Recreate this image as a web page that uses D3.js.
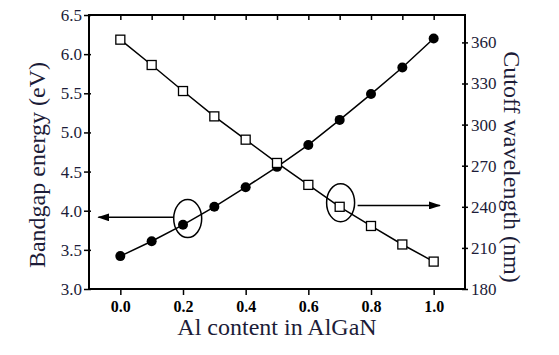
<!DOCTYPE html>
<html>
<head>
<meta charset="utf-8">
<script src="https://cdn.jsdelivr.net/npm/d3@7"></script>
<style>
body { margin: 0; background: #fff; }
</style>
</head>
<body>
<script>
var alContent = [0.0, 0.1, 0.2, 0.3, 0.4, 0.5, 0.6, 0.7, 0.8, 0.9, 1.0];
var bandgap = [3.42, 3.61, 3.82, 4.05, 4.30, 4.56, 4.84, 5.16, 5.49, 5.83, 6.20];
var wavelength = [362, 343.5, 324.5, 306, 289, 272, 256, 240, 226, 212.5, 200];
var xTicks = [0.0, 0.2, 0.4, 0.6, 0.8, 1.0];
var leftTicks = [3.0, 3.5, 4.0, 4.5, 5.0, 5.5, 6.0, 6.5];
var rightTicks = [180, 210, 240, 270, 300, 330, 360];

var serif = "'Liberation Serif', 'Times New Roman', serif";
var margin = {top: 15, right: 94, bottom: 66, left: 89};
var width = 559 - margin.left - margin.right;
var height = 355 - margin.top - margin.bottom;

var x = d3.scaleLinear().domain([-0.1, 1.1]).range([0, width]);
var yL = d3.scaleLinear().domain([3.0, 6.5]).range([height, 0]);
var yR = d3.scaleLinear().domain([180, 380]).range([height, 0]);

var svg = d3.select("body").append("svg")
    .attr("width", 559)
    .attr("height", 355);

var defs = svg.append("defs");
defs.append("marker")
    .attr("id", "arrow")
    .attr("viewBox", "0 0 12 8")
    .attr("refX", 11).attr("refY", 4)
    .attr("markerWidth", 12).attr("markerHeight", 8)
    .attr("markerUnits", "userSpaceOnUse")
    .attr("orient", "auto")
    .append("path").attr("d", "M0,0 L12,4 L0,8 Z").attr("fill", "#000");

var g = svg.append("g").attr("transform", "translate(" + margin.left + "," + margin.top + ")");

// axes
var minorX = d3.range(0, 11).map(function(i){ return i / 10; });
var minorL = d3.range(3.0, 6.51, 0.25);
var minorR = d3.range(180, 381, 15);

var bottomAxis = g.append("g").attr("transform", "translate(0," + height + ")");
bottomAxis.call(d3.axisBottom(x).tickValues(minorX).tickSize(3).tickFormat(""));
bottomAxis.call(d3.axisBottom(x).tickValues(xTicks).tickSize(6).tickFormat(d3.format(".1f")));
bottomAxis.selectAll("text").attr("font-size", "16px").attr("font-weight", "bold").attr("fill", "#000").attr("dy", "0.85em");

var topAxis = g.append("g");
topAxis.call(d3.axisBottom(x).tickValues(minorX).tickSize(5).tickFormat(""));

var leftAxis = g.append("g");
leftAxis.call(d3.axisLeft(yL).tickValues(minorL).tickSize(3).tickFormat(""));
leftAxis.call(d3.axisLeft(yL).tickValues(leftTicks).tickSize(5).tickFormat(d3.format(".1f")));
leftAxis.selectAll("text").attr("font-size", "17px").attr("fill", "#1c1c38").attr("x", -7);
leftAxis.selectAll(".tick line").attr("x1", 2);

var rightAxis = g.append("g").attr("transform", "translate(" + width + ",0)");
rightAxis.call(d3.axisRight(yR).tickValues(minorR).tickSize(3).tickFormat(""));
rightAxis.call(d3.axisRight(yR).tickValues(rightTicks).tickSize(3).tickFormat(d3.format("d")));
rightAxis.selectAll("text").attr("font-size", "17px").attr("fill", "#1c1c38").attr("x", 6);
rightAxis.selectAll(".tick line").attr("x1", -3);

g.selectAll(".domain").remove();
g.selectAll(".tick line").attr("stroke", "#000").attr("stroke-width", 1.5);
g.selectAll(".tick text").attr("font-family", serif);

g.append("rect")
    .attr("width", width).attr("height", height)
    .attr("fill", "none").attr("stroke", "#000").attr("stroke-width", 2);

// bandgap series
var lineL = d3.line().x(function(d, i){ return x(alContent[i]); }).y(function(d){ return yL(d); });
g.append("path").datum(bandgap).attr("d", lineL)
    .attr("fill", "none").attr("stroke", "#000").attr("stroke-width", 1.5);
g.selectAll(".dot").data(bandgap).enter().append("circle")
    .attr("class", "dot")
    .attr("cx", function(d, i){ return x(alContent[i]); })
    .attr("cy", function(d){ return yL(d); })
    .attr("r", 5).attr("fill", "#000");

// wavelength series
var lineR = d3.line().x(function(d, i){ return x(alContent[i]); }).y(function(d){ return yR(d); });
g.append("path").datum(wavelength).attr("d", lineR)
    .attr("fill", "none").attr("stroke", "#000").attr("stroke-width", 1.5);
g.selectAll(".sq").data(wavelength).enter().append("rect")
    .attr("class", "sq")
    .attr("x", function(d, i){ return x(alContent[i]) - 4.5; })
    .attr("y", function(d){ return yR(d) - 4.5; })
    .attr("width", 9).attr("height", 9)
    .attr("fill", "#fff").attr("stroke", "#000").attr("stroke-width", 1.3);

// annotations: ellipses + arrows
g.append("ellipse")
    .attr("cx", x(0.215)).attr("cy", yL(3.9))
    .attr("rx", 14).attr("ry", 19)
    .attr("fill", "none").attr("stroke", "#000").attr("stroke-width", 1.5);
g.append("line")
    .attr("x1", x(0.215) - 14).attr("y1", yL(3.915))
    .attr("x2", x(-0.07)).attr("y2", yL(3.915))
    .attr("stroke", "#000").attr("stroke-width", 1.5)
    .attr("marker-end", "url(#arrow)");

g.append("ellipse")
    .attr("cx", x(0.703)).attr("cy", yR(243))
    .attr("rx", 14).attr("ry", 19)
    .attr("fill", "none").attr("stroke", "#000").attr("stroke-width", 1.5);
g.append("line")
    .attr("x1", x(0.703) + 17).attr("y1", yR(241))
    .attr("x2", x(1.02)).attr("y2", yR(241))
    .attr("stroke", "#000").attr("stroke-width", 1.5)
    .attr("marker-end", "url(#arrow)");

// axis titles
svg.append("text")
    .attr("x", margin.left + width / 2).attr("y", 335)
    .attr("text-anchor", "middle").attr("font-size", "24px").attr("fill", "#1c1c38")
    .attr("font-family", serif)
    .text("Al content in AlGaN");
svg.append("text")
    .attr("transform", "translate(45," + (margin.top + height / 2 + 13) + ") rotate(-90)")
    .attr("text-anchor", "middle").attr("font-size", "24px").attr("fill", "#1c1c38")
    .attr("font-family", serif)
    .text("Bandgap energy (eV)");
svg.append("text")
    .attr("transform", "translate(504," + (margin.top + height / 2 + 15) + ") rotate(90)")
    .attr("text-anchor", "middle").attr("font-size", "24px").attr("fill", "#1c1c38")
    .attr("font-family", serif)
    .text("Cutoff wavelength (nm)");
</script>
</body>
</html>
